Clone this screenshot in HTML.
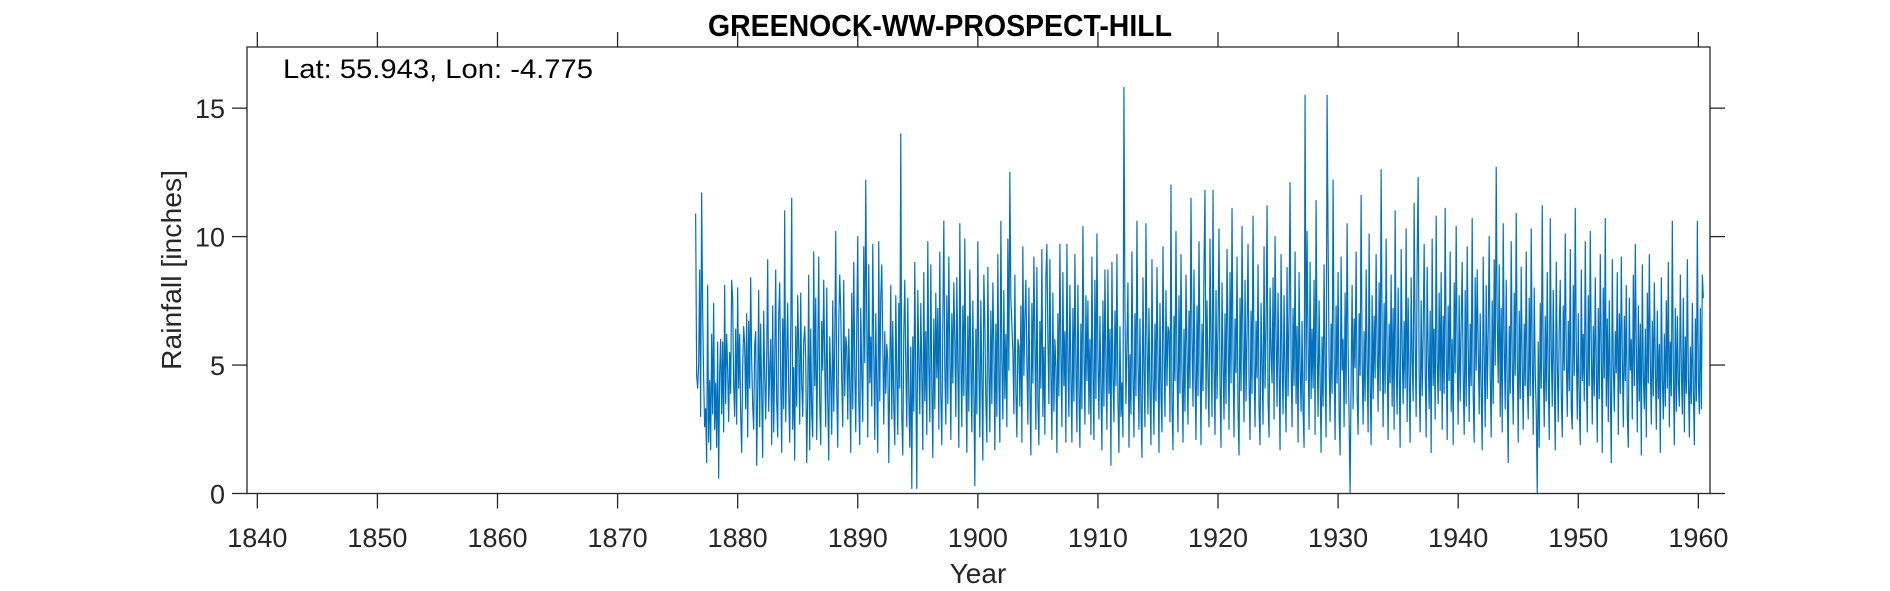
<!DOCTYPE html>
<html><head><meta charset="utf-8"><style>
body{margin:0;background:#fff;}
svg{display:block;font-family:"Liberation Sans",Arial,sans-serif;}
</style></head><body>
<svg id="chart" width="1890" height="591" viewBox="0 0 1890 591">
<rect width="1890" height="591" fill="#fff"/>
<text x="940" y="36" text-anchor="middle" font-size="31" font-weight="bold" fill="#000" textLength="464" lengthAdjust="spacingAndGlyphs">GREENOCK-WW-PROSPECT-HILL</text>
<path id="series" fill="none" stroke="#0072bd" stroke-width="1.2" stroke-linejoin="round"/>
<rect x="247" y="47" width="1463" height="446.5" fill="none" stroke="#262626" stroke-width="1.3"/>
<g id="ticks"></g>
<text x="283" y="78" font-size="27" fill="#000" textLength="310" lengthAdjust="spacingAndGlyphs">Lat: 55.943, Lon: -4.775</text>
<text x="978" y="583" text-anchor="middle" font-size="28" fill="#262626">Year</text>
<text transform="translate(181,270) rotate(-90)" text-anchor="middle" font-size="28" fill="#262626" textLength="200" lengthAdjust="spacingAndGlyphs">Rainfall [inches]</text>
</svg>
<script>
const xTicks=[1840,1850,1860,1870,1880,1890,1900,1910,1920,1930,1940,1950,1960];
const yTicks=[0,5,10,15];
const startYear=1876.5;
const rain=[
10.9,4.6,4.1,5.0,8.7,3.0,11.7,7.2,4.5,2.6,3.3,1.2,
8.1,2.0,4.4,1.7,6.2,3.1,7.4,2.5,4.3,1.8,5.9,0.6,
4.7,6.0,3.1,5.9,2.4,8.1,3.5,6.2,4.8,2.8,5.5,3.9,
8.3,7.6,4.2,3.0,6.4,2.7,8.0,4.1,6.2,3.1,1.6,4.9,
6.5,5.8,3.3,7.0,2.2,6.7,4.1,8.4,5.2,3.4,2.5,5.8,
6.3,1.1,4.0,7.9,2.6,6.6,3.8,1.4,7.1,4.6,2.9,5.3,
9.1,3.2,4.8,6.0,1.9,7.3,2.4,5.1,8.7,3.6,2.2,6.9,
8.2,4.4,1.6,6.8,3.3,11.0,2.8,5.4,7.4,3.9,2.0,6.1,
11.5,2.5,4.9,1.3,6.5,3.4,7.7,5.6,2.7,7.8,4.3,3.0,
5.9,6.5,5.2,1.2,3.9,8.5,1.7,6.4,3.1,2.2,9.4,4.2,
7.6,2.1,5.5,9.2,3.5,1.9,6.7,4.8,8.3,5.0,2.6,8.0,
3.7,1.3,6.1,4.5,2.3,7.5,3.2,5.8,10.2,4.0,1.8,6.6,
8.5,7.1,4.4,2.6,8.3,3.8,6.1,5.7,2.9,6.4,4.2,1.6,
7.8,3.3,9.0,4.9,2.4,6.5,10.0,3.7,1.9,7.2,4.6,2.8,
9.6,5.1,12.2,6.8,2.2,8.9,4.3,6.1,3.4,9.7,5.5,2.1,
7.0,4.0,1.6,9.8,3.6,7.6,8.9,5.8,2.7,6.3,3.9,5.8,
5.2,1.2,4.8,8.1,2.9,6.7,3.4,1.9,7.7,4.6,2.3,7.4,
4.1,14.0,3.0,1.5,6.2,8.3,4.9,2.6,7.6,3.8,1.8,5.7,
0.2,6.1,3.2,9.0,4.4,0.2,7.9,5.3,3.1,7.4,4.7,1.7,
8.6,3.6,6.3,2.3,9.8,5.0,2.8,8.9,4.2,1.4,6.8,3.3,
7.8,4.5,7.2,2.5,9.4,3.9,1.9,6.6,10.6,4.8,2.7,7.7,
3.5,9.2,5.6,2.1,7.0,4.3,8.2,6.0,3.0,8.4,4.9,1.8,
10.5,5.3,2.6,7.3,3.8,9.9,4.6,1.6,6.9,3.2,8.7,5.1,
2.4,7.5,4.0,0.3,6.4,3.1,9.8,5.0,2.2,7.5,4.4,1.3,
8.5,6.7,3.6,2.0,8.8,4.9,2.4,7.1,3.5,8.2,5.8,1.7,
6.6,3.0,9.3,4.4,2.0,10.6,5.2,2.9,7.9,3.7,6.2,2.6,
9.9,4.8,12.5,7.6,6.6,5.5,3.1,8.5,4.0,2.2,6.0,5.7,
3.4,7.3,2.0,9.6,4.6,6.8,8.3,5.1,2.7,8.0,3.9,1.5,
7.4,4.3,9.2,5.9,2.5,8.8,3.6,1.9,6.7,4.1,9.5,3.0,
5.7,2.3,8.4,9.7,6.0,3.5,9.1,4.7,2.1,7.8,3.2,6.0,
4.9,1.6,7.0,3.8,9.7,5.4,2.6,8.6,4.2,6.3,2.0,9.7,
5.1,3.0,8.1,4.5,2.0,7.2,3.6,9.3,5.0,2.4,8.1,4.0,
1.8,6.6,3.3,10.4,5.6,2.7,7.7,4.4,7.5,3.1,6.0,2.3,
9.2,4.8,2.1,8.3,3.7,10.1,5.2,2.9,6.9,4.1,1.7,7.5,
3.4,8.7,5.0,2.5,8.7,3.9,6.4,1.1,9.0,4.6,2.8,7.1,
4.2,9.3,3.6,1.6,6.5,3.0,4.3,2.2,15.8,7.3,3.5,5.9,
8.2,1.8,5.4,3.1,9.4,4.6,2.2,7.0,3.8,10.6,5.1,2.5,
6.8,3.3,1.4,8.4,4.7,2.6,10.5,5.9,3.1,7.2,4.0,1.9,
9.1,4.5,2.3,6.6,3.6,8.8,5.2,1.6,7.4,3.9,2.4,9.6,
5.5,3.0,7.9,4.2,6.5,6.3,2.8,12.0,3.5,1.7,6.9,4.4,
10.2,5.0,2.4,7.7,3.9,9.3,4.8,2.0,6.4,3.2,8.5,5.6,
2.7,7.1,4.1,11.5,6.0,3.4,8.7,4.6,2.1,7.3,3.8,9.8,
5.3,1.9,6.6,4.0,8.9,11.8,3.3,7.5,4.5,2.6,9.9,5.8,
3.0,11.8,4.9,2.3,7.9,3.7,6.5,10.3,4.2,1.8,8.2,5.1,
2.9,7.0,3.5,9.5,6.1,2.5,8.6,4.3,11.1,5.4,2.2,6.8,
4.7,9.2,3.2,1.5,7.6,4.0,10.4,5.7,2.8,8.3,3.6,6.2,
9.7,4.4,2.1,7.1,3.9,10.8,5.2,2.6,6.7,4.5,8.9,3.3,
1.9,7.4,5.0,2.7,9.6,4.1,6.3,11.2,3.6,2.2,8.0,5.5,
4.3,8.4,2.9,10.0,6.2,3.4,7.8,4.8,1.7,9.3,5.3,3.1,
7.7,4.6,2.4,8.8,3.8,6.9,12.1,5.1,2.6,7.2,4.2,9.4,
3.5,6.5,2.0,8.6,4.9,3.2,6.7,3.2,1.8,15.5,4.4,10.2,
5.8,2.5,9.0,3.7,6.4,4.1,8.3,2.3,11.4,5.6,3.0,7.5,
4.5,1.6,6.1,3.4,8.9,4.7,2.2,15.5,9.8,5.2,2.8,6.6,
3.9,12.2,5.4,2.1,7.3,4.3,8.6,3.1,1.5,9.2,4.8,6.0,
2.6,7.8,3.5,10.5,5.7,2.9,0.0,4.4,8.1,3.3,6.8,4.9,
9.4,3.8,2.3,7.0,4.6,11.6,5.3,2.7,6.3,3.6,8.7,5.0,
2.4,10.1,4.2,1.9,7.7,3.7,6.9,4.5,9.3,5.6,3.2,8.2,
4.0,12.6,6.1,2.6,7.4,3.9,9.9,5.4,2.1,6.6,4.3,8.5,
3.4,7.2,2.5,11.0,5.0,3.1,8.0,4.7,1.8,9.5,5.8,3.5,
6.7,4.1,10.3,2.8,7.6,4.4,2.0,8.4,5.2,3.6,11.3,6.0,
3.0,9.1,12.3,4.6,2.4,7.5,3.8,6.2,9.7,4.9,2.2,8.8,
5.5,3.3,7.1,1.6,9.9,4.2,6.4,2.9,10.8,5.1,3.5,7.8,
4.0,8.6,2.5,6.9,3.9,11.1,5.6,2.1,7.3,4.4,9.4,3.2,
6.0,1.9,8.2,4.7,10.4,5.3,2.7,7.7,3.6,6.5,9.0,4.5,
2.3,7.9,3.4,9.6,5.9,2.8,6.6,4.2,10.7,3.8,2.0,8.4,
4.8,8.7,5.7,3.1,7.0,4.0,1.7,9.2,5.4,2.6,8.1,3.7,
6.3,10.0,4.6,2.2,7.5,3.5,9.1,5.0,12.7,6.8,4.3,8.9,
3.0,7.2,2.4,10.5,5.8,3.3,8.3,4.1,1.2,6.5,3.9,9.8,
5.1,2.7,7.8,4.6,10.9,5.5,2.0,7.1,3.7,8.8,4.9,2.5,
6.6,4.2,9.4,4.4,2.9,7.6,3.8,10.3,5.3,2.3,8.0,4.7,
3.2,0.0,5.9,1.8,7.4,4.1,11.2,5.0,2.6,6.9,3.6,8.6,
4.5,2.1,10.7,5.6,3.4,7.9,4.3,1.7,9.0,5.2,2.8,6.4,
8.3,3.9,2.2,7.3,4.8,10.1,5.4,3.0,6.7,4.0,9.5,3.3,
2.5,8.1,4.6,11.1,5.8,2.9,7.0,3.5,1.9,8.7,4.4,6.2,
3.6,9.8,5.1,2.4,7.7,4.2,10.2,5.7,2.7,6.5,3.8,8.4,
4.9,2.0,7.2,3.7,9.3,5.5,1.6,8.0,4.5,10.7,3.4,6.8,
2.8,7.5,4.1,1.2,9.1,5.0,3.2,6.3,4.7,8.6,2.3,7.0,
3.9,9.2,5.3,2.6,6.9,4.4,8.1,3.1,1.8,7.6,4.8,6.0,
2.9,8.5,4.2,9.7,5.6,2.4,7.3,3.6,6.6,1.5,8.9,4.6,
3.3,6.4,2.2,7.8,4.3,9.3,5.1,2.7,6.7,3.8,8.2,4.9,
2.5,7.1,3.7,5.8,1.6,8.4,4.5,2.9,6.2,3.4,7.5,4.1,
9.0,2.6,5.9,3.8,10.6,4.7,1.9,7.2,3.2,6.9,4.3,3.4,
8.5,4.8,3.1,7.6,2.4,6.1,3.9,9.1,4.6,2.2,5.7,3.5,
7.4,4.0,1.9,6.8,3.6,10.6,4.4,3.1,7.2,3.3,8.5,7.6
];
const svgNS="http://www.w3.org/2000/svg";
const X0=247,X1=1710,xMin=1839.14,xMax=1960.97;
const Y0=493.5,Y1=47,yMin=0,yMax=17.38;
const xs=v=>X0+(v-xMin)/(xMax-xMin)*(X1-X0);
const ys=v=>Y0-(v-yMin)/(yMax-yMin)*(Y0-Y1);
let d="";
rain.forEach((v,i)=>{const t=startYear+i/12;d+=(i?"L":"M")+xs(t).toFixed(2)+","+ys(v).toFixed(2);});
document.getElementById("series").setAttribute("d",d);
const tg=document.getElementById("ticks");
function mk(tag,attrs){const e=document.createElementNS(svgNS,tag);for(const k in attrs)e.setAttribute(k,attrs[k]);tg.appendChild(e);return e;}
xTicks.forEach(v=>{
  const x=xs(v);
  const l1=mk("line",{x1:x,x2:x,y1:Y0,y2:Y0+15,stroke:"#262626","stroke-width":1.3});
  
  
  const l2=mk("line",{x1:x,x2:x,y1:Y1,y2:Y1-15,stroke:"#262626","stroke-width":1.3});
  
  
  const t=mk("text",{x:x,y:547,"text-anchor":"middle","font-size":"27",fill:"#262626"});
  t.textContent=v;
  
  
});
yTicks.forEach(v=>{
  const y=ys(v);
  const l1=mk("line",{x1:X0-15,x2:X0,y1:y,y2:y,stroke:"#262626","stroke-width":1.3});
  
  
  const l2=mk("line",{x1:X1,x2:X1+15,y1:y,y2:y,stroke:"#262626","stroke-width":1.3});
  
  
  const t=mk("text",{x:X0-22,y:y+10,"text-anchor":"end","font-size":"27",fill:"#262626"});
  t.textContent=v;
  
  
});
</script>
</body></html>
